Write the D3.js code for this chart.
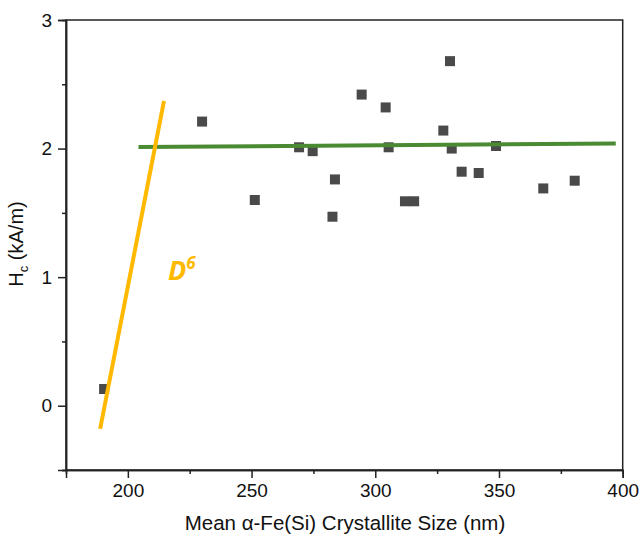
<!DOCTYPE html>
<html>
<head>
<meta charset="utf-8">
<script src="https://cdn.jsdelivr.net/npm/d3@7"></script>
<style>
  body { margin: 0; background: #fff; }
  text { font-family: "Liberation Sans", Arial, sans-serif; }
</style>
</head>
<body>
<div id="chart"></div>
<script>
// crystallite size (nm) and coercivity Hc (kA/m)
const sizes = [190.4, 230, 251.3, 269.2, 274.7, 283.7, 282.7, 294.5, 304.2, 305.4, 312, 315.7, 330.2, 327.5, 330.9, 334.9, 341.8, 348.8, 367.9, 380.6];
const hc = [0.13, 2.21, 1.60, 2.01, 1.98, 1.76, 1.47, 2.42, 2.32, 2.01, 1.59, 1.59, 2.68, 2.14, 2.00, 1.82, 1.81, 2.02, 1.69, 1.75];

// fit lines
const flatX = [204.3, 397.2];
const flatY = [2.012, 2.039];
const d6X = [188.8, 214.6];
const d6Y = [-0.18, 2.37];

const xTicks = [200, 250, 300, 350, 400];
const yTicks = [0, 1, 2, 3];

const width = 642, height = 534;
const margin = { top: 20, right: 20, bottom: 64, left: 66 };

const svg = d3.select("#chart")
    .append("svg")
    .attr("width", width)
    .attr("height", height);

const x = d3.scaleLinear().domain([175, 400]).range([margin.left, width - margin.right + 0.7]);
const y = d3.scaleLinear().domain([-0.5, 3]).range([height - margin.bottom, margin.top]);

// frame
svg.append("rect")
    .attr("x", x(175))
    .attr("y", y(3))
    .attr("width", x(400) - x(175))
    .attr("height", y(-0.5) - y(3))
    .attr("fill", "none")
    .attr("stroke", "#222")
    .attr("stroke-width", 1.5);

// minor ticks
const xAxisMinor = d3.axisBottom(x).tickValues([225, 275, 325, 375]).tickSize(4).tickFormat("");
const yAxisMinor = d3.axisLeft(y).tickValues([-0.5, 0.5, 1.5, 2.5]).tickSize(4).tickFormat("");

svg.append("g")
    .attr("transform", `translate(0,${y(-0.5)})`)
    .call(xAxisMinor);
svg.append("g")
    .attr("transform", `translate(${x(175)},0)`)
    .call(yAxisMinor);

svg.append("g")
    .attr("transform", `translate(0,${y(-0.5)})`)
    .call(d3.axisBottom(x).tickValues(xTicks).tickSize(8).tickPadding(6).tickFormat(d3.format("d")));
svg.append("g")
    .attr("transform", `translate(${x(175)},0)`)
    .call(d3.axisLeft(y).tickValues(yTicks).tickSize(8).tickPadding(6).tickFormat(d3.format("d")));

svg.selectAll(".domain").attr("stroke", "#222").attr("stroke-width", 1.5);
svg.selectAll(".tick line").attr("stroke", "#222").attr("stroke-width", 1.5);
svg.selectAll(".tick text")
    .style("font-family", "Liberation Sans, Arial, sans-serif")
    .style("font-size", "19px")
    .attr("fill", "#111");

// axis titles
svg.append("text")
    .attr("x", 345)
    .attr("y", 530)
    .style("text-anchor", "middle")
    .style("font-size", "20.5px")
    .attr("fill", "#111")
    .text("Mean \u03b1-Fe(Si) Crystallite Size (nm)");

const yl = svg.append("text")
    .attr("transform", "translate(23,244) rotate(-90)")
    .style("text-anchor", "middle")
    .style("font-size", "20px")
    .attr("fill", "#111");
yl.append("tspan").text("H");
yl.append("tspan").attr("dy", 5).style("font-size", "13px").text("c");
yl.append("tspan").attr("dy", -5).text(" (kA/m)");

// points
const pts = sizes.map((s, i) => ({ s: s, h: hc[i] }));
svg.append("g")
    .selectAll("rect")
    .data(pts)
    .enter()
    .append("rect")
    .attr("x", d => x(d.s) - 5)
    .attr("y", d => y(d.h) - 5)
    .attr("width", 10)
    .attr("height", 10)
    .attr("fill", "#4a4a4a");

const line = d3.line().x(d => x(d[0])).y(d => y(d[1]));

svg.append("path")
    .datum(flatX.map((v, i) => [v, flatY[i]]))
    .attr("d", line)
    .attr("fill", "none")
    .attr("stroke", "#4a8a32")
    .attr("stroke-width", 4);

svg.append("path")
    .datum(d6X.map((v, i) => [v, d6Y[i]]))
    .attr("d", line)
    .attr("fill", "none")
    .attr("stroke", "#ffb900")
    .attr("stroke-width", 4);

// D^6 label
const dl = svg.append("text")
    .attr("x", x(216.2))
    .attr("y", y(0.975))
    .style("font-family", "Open Sans, sans-serif")
    .style("font-weight", "bold")
    .style("font-style", "italic")
    .style("font-size", "27px")
    .attr("fill", "#ffb900");
dl.append("tspan").text("D");
dl.append("tspan").attr("dy", -11).style("font-size", "17px").text("6");
</script>
</body>
</html>
